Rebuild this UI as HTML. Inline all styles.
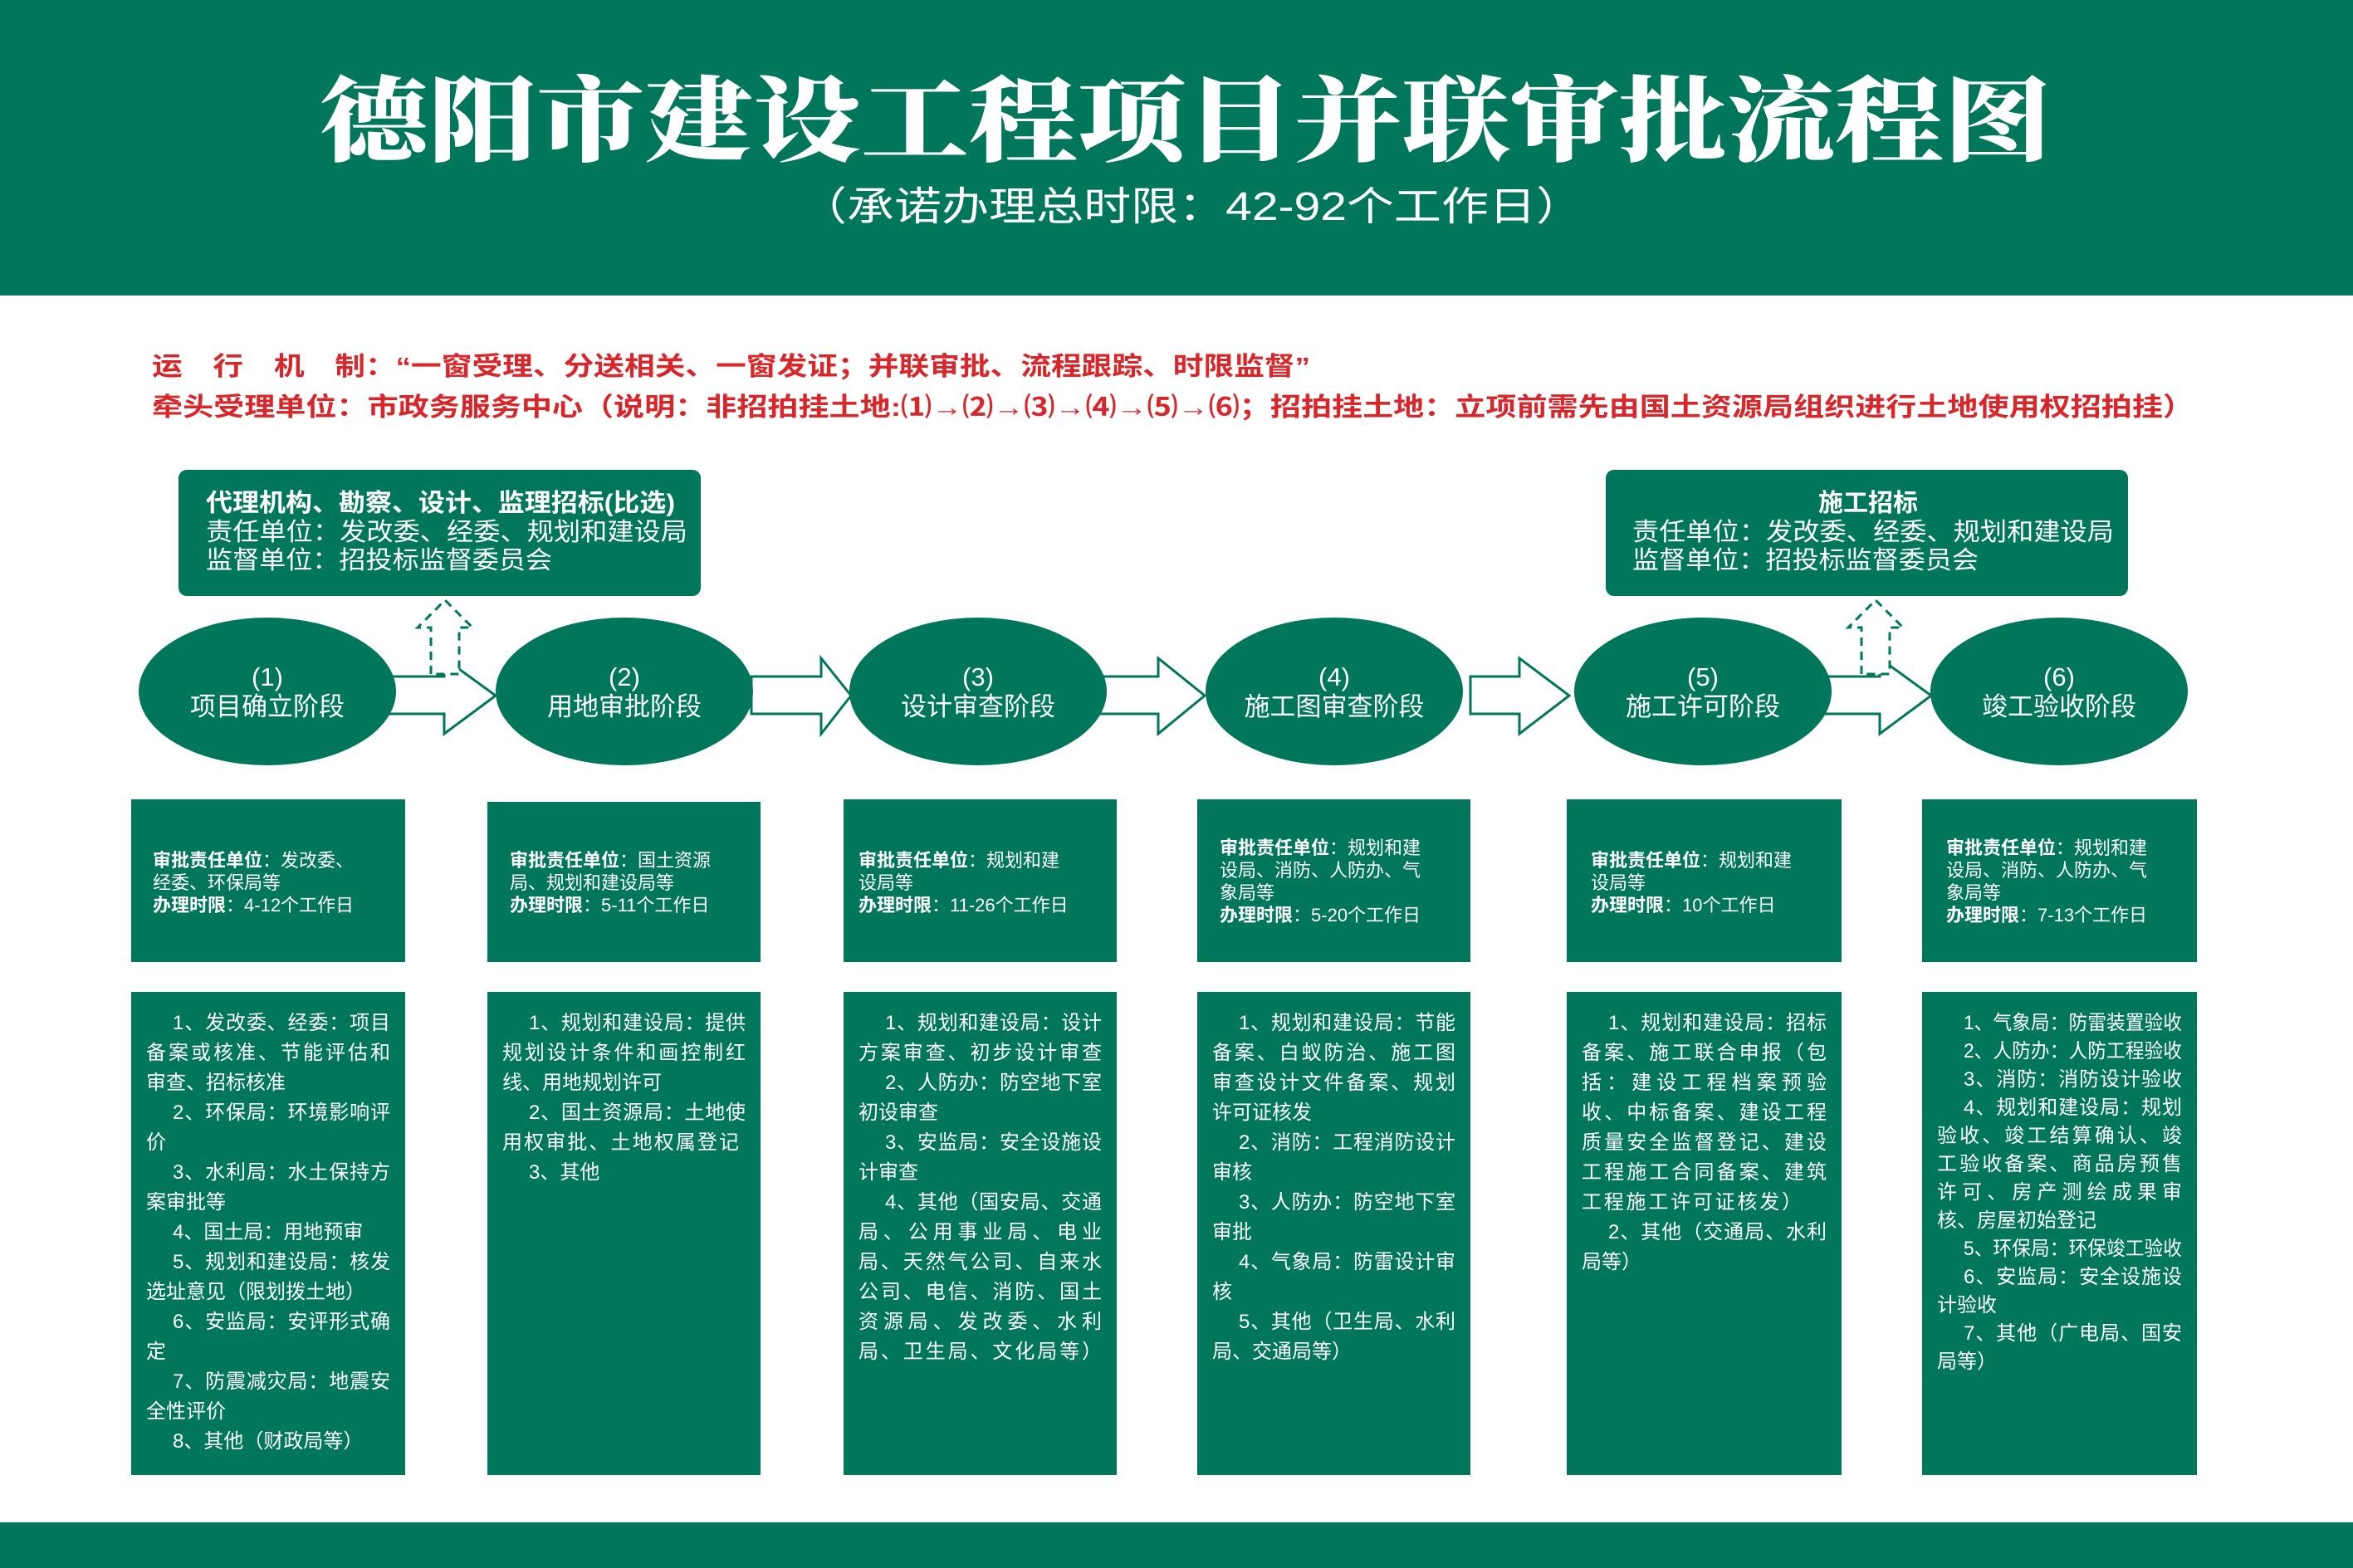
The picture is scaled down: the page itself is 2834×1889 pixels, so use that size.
<!DOCTYPE html>
<html><head><meta charset="utf-8"><style>
html,body{margin:0;padding:0;background:#fff}
svg{display:block}
text{font-family:"Liberation Sans","Noto Sans CJK SC",sans-serif}
.w{fill:#fff}
.r1{font-size:22px;fill:#fff}
.r2{font-size:24px;fill:#fff}
.b{font-weight:bold}
</style></head><body>
<svg width="2834" height="1889" viewBox="0 0 2834 1889" xmlns="http://www.w3.org/2000/svg">
<rect width="2834" height="1889" fill="#fff"/>
<rect x="0" y="0" width="2834" height="356" fill="#00765a"/>
<rect x="0" y="1834" width="2834" height="55" fill="#00765a"/>
<text x="385" y="185" font-size="112" textLength="2086" lengthAdjust="spacingAndGlyphs" style="font-family:'Noto Serif CJK SC',serif;font-weight:900" class="w">德阳市建设工程项目并联审批流程图</text>
<text x="963" y="265" font-size="48" textLength="944" lengthAdjust="spacingAndGlyphs" class="w">（承诺办理总时限：42-92个工作日）</text>

<text x="183" y="452" font-size="31" font-weight="bold" fill="#d7272b" textLength="1395" lengthAdjust="spacingAndGlyphs">运　行　机　制：“一窗受理、分送相关、一窗发证；并联审批、流程跟踪、时限监督”</text>
<text x="183" y="501" font-size="31" font-weight="bold" fill="#d7272b" textLength="2459" lengthAdjust="spacingAndGlyphs">牵头受理单位：市政务服务中心（说明：非招拍挂土地:⑴→⑵→⑶→⑷→⑸→⑹；招拍挂土地：立项前需先由国土资源局组织进行土地使用权招拍挂）</text>

<!-- top boxes -->
<rect x="215" y="566" width="629" height="152" rx="10" fill="#00765a"/>
<text x="248" y="616" font-size="30" font-weight="bold" class="w" textLength="565" lengthAdjust="spacingAndGlyphs">代理机构、勘察、设计、监理招标(比选)</text>
<text x="248" y="651" font-size="30" class="w" textLength="580" lengthAdjust="spacingAndGlyphs">责任单位：发改委、经委、规划和建设局</text>
<text x="248" y="685" font-size="30" class="w" textLength="417" lengthAdjust="spacingAndGlyphs">监督单位：招投标监督委员会</text>
<rect x="1934" y="566" width="629" height="152" rx="10" fill="#00765a"/>
<text x="2250" y="616" font-size="30" font-weight="bold" class="w" text-anchor="middle">施工招标</text>
<text x="1966" y="651" font-size="30" class="w" textLength="580" lengthAdjust="spacingAndGlyphs">责任单位：发改委、经委、规划和建设局</text>
<text x="1966" y="685" font-size="30" class="w" textLength="417" lengthAdjust="spacingAndGlyphs">监督单位：招投标监督委员会</text>

<!-- arrows -->
<g fill="#fff" stroke="#00765a" stroke-width="3">
<polygon points="440,815 535,815 535,793 597,838 535,884 535,860 440,860"/>
<polygon points="905,815 989,815 989,793 1025,838 989,884 989,860 905,860"/>
<polygon points="1300,815 1395,815 1395,793 1451,838 1395,884 1395,860 1300,860"/>
<polygon points="1771,815 1830,815 1830,793 1890,838 1830,884 1830,860 1771,860"/>
<polygon points="2180,815 2264,815 2264,793 2326,838 2264,884 2264,860 2180,860"/>
</g>
<g fill="#fff" stroke="#00765a" stroke-width="3" stroke-dasharray="10,7">
<polygon points="519,812 519,756 503,756 536,723 569,756 553,756 553,812"/>
<polygon points="2242,812 2242,756 2226,756 2259,723 2292,756 2276,756 2276,812"/>
</g>

<!-- ellipses -->
<g fill="#00765a">
<ellipse cx="322" cy="833" rx="155" ry="89"/>
<ellipse cx="752" cy="833" rx="155" ry="89"/>
<ellipse cx="1178" cy="833" rx="155" ry="89"/>
<ellipse cx="1607" cy="833" rx="155" ry="89"/>
<ellipse cx="2051" cy="833" rx="155" ry="89"/>
<ellipse cx="2480" cy="833" rx="155" ry="89"/>
</g>
<g font-size="31" class="w" text-anchor="middle" fill="#fff">
<text x="322" y="826">(1)</text><text x="322" y="862">项目确立阶段</text>
<text x="752" y="826">(2)</text><text x="752" y="862">用地审批阶段</text>
<text x="1178" y="826">(3)</text><text x="1178" y="862">设计审查阶段</text>
<text x="1607" y="826">(4)</text><text x="1607" y="862">施工图审查阶段</text>
<text x="2051" y="826">(5)</text><text x="2051" y="862">施工许可阶段</text>
<text x="2480" y="826">(6)</text><text x="2480" y="862">竣工验收阶段</text>
</g>

<!-- row 1 boxes -->
<g fill="#00765a">
<rect x="158" y="963" width="330" height="196"/>
<rect x="587" y="966" width="329" height="193"/>
<rect x="1016" y="963" width="329" height="196"/>
<rect x="1442" y="963" width="329" height="196"/>
<rect x="1887" y="963" width="331" height="196"/>
<rect x="2315" y="963" width="331" height="196"/>
</g>
<g class="r1">
<text x="184" y="1044"><tspan class="b">审批责任单位</tspan>：发改委、</text>
<text x="184" y="1071">经委、环保局等</text>
<text x="184" y="1098"><tspan class="b">办理时限</tspan>：4-12个工作日</text>

<text x="614" y="1044"><tspan class="b">审批责任单位</tspan>：国土资源</text>
<text x="614" y="1071">局、规划和建设局等</text>
<text x="614" y="1098"><tspan class="b">办理时限</tspan>：5-11个工作日</text>

<text x="1034" y="1044"><tspan class="b">审批责任单位</tspan>：规划和建</text>
<text x="1034" y="1071">设局等</text>
<text x="1034" y="1098"><tspan class="b">办理时限</tspan>：11-26个工作日</text>

<text x="1469" y="1029"><tspan class="b">审批责任单位</tspan>：规划和建</text>
<text x="1469" y="1056">设局、消防、人防办、气</text>
<text x="1469" y="1083">象局等</text>
<text x="1469" y="1110"><tspan class="b">办理时限</tspan>：5-20个工作日</text>

<text x="1916" y="1044"><tspan class="b">审批责任单位</tspan>：规划和建</text>
<text x="1916" y="1071">设局等</text>
<text x="1916" y="1098"><tspan class="b">办理时限</tspan>：10个工作日</text>

<text x="2344" y="1029"><tspan class="b">审批责任单位</tspan>：规划和建</text>
<text x="2344" y="1056">设局、消防、人防办、气</text>
<text x="2344" y="1083">象局等</text>
<text x="2344" y="1110"><tspan class="b">办理时限</tspan>：7-13个工作日</text>
</g>

<!-- row 2 boxes -->
<g fill="#00765a">
<rect x="158" y="1195" width="330" height="582"/>
<rect x="587" y="1195" width="329" height="582"/>
<rect x="1016" y="1195" width="329" height="582"/>
<rect x="1442" y="1195" width="329" height="582"/>
<rect x="1887" y="1195" width="331" height="582"/>
<rect x="2315" y="1195" width="331" height="582"/>
</g>
<g class="r2">
<!-- box1: left 176, right 470 -->
<text x="208" y="1240" textLength="262" lengthAdjust="spacing">1、发改委、经委：项目</text>
<text x="176" y="1276" textLength="294" lengthAdjust="spacing">备案或核准、节能评估和</text>
<text x="176" y="1312">审查、招标核准</text>
<text x="208" y="1348" textLength="262" lengthAdjust="spacing">2、环保局：环境影响评</text>
<text x="176" y="1384">价</text>
<text x="208" y="1420" textLength="262" lengthAdjust="spacing">3、水利局：水土保持方</text>
<text x="176" y="1456">案审批等</text>
<text x="208" y="1492">4、国土局：用地预审</text>
<text x="208" y="1528" textLength="262" lengthAdjust="spacing">5、规划和建设局：核发</text>
<text x="176" y="1564">选址意见（限划拨土地）</text>
<text x="208" y="1600" textLength="262" lengthAdjust="spacing">6、安监局：安评形式确</text>
<text x="176" y="1636">定</text>
<text x="208" y="1672" textLength="262" lengthAdjust="spacing">7、防震减灾局：地震安</text>
<text x="176" y="1708">全性评价</text>
<text x="208" y="1744">8、其他（财政局等）</text>

<!-- box2: 605-898 -->
<text x="637" y="1240" textLength="261" lengthAdjust="spacing">1、规划和建设局：提供</text>
<text x="605" y="1276" textLength="293" lengthAdjust="spacing">规划设计条件和画控制红</text>
<text x="605" y="1312">线、用地规划许可</text>
<text x="637" y="1348" textLength="261" lengthAdjust="spacing">2、国土资源局：土地使</text>
<text x="605" y="1384" textLength="285" lengthAdjust="spacing">用权审批、土地权属登记</text>
<text x="637" y="1420">3、其他</text>

<!-- box3: 1034-1327 -->
<text x="1066" y="1240" textLength="261" lengthAdjust="spacing">1、规划和建设局：设计</text>
<text x="1034" y="1276" textLength="293" lengthAdjust="spacing">方案审查、初步设计审查</text>
<text x="1066" y="1312" textLength="261" lengthAdjust="spacing">2、人防办：防空地下室</text>
<text x="1034" y="1348">初设审查</text>
<text x="1066" y="1384" textLength="261" lengthAdjust="spacing">3、安监局：安全设施设</text>
<text x="1034" y="1420">计审查</text>
<text x="1066" y="1456" textLength="261" lengthAdjust="spacing">4、其他（国安局、交通</text>
<text x="1034" y="1492" textLength="293" lengthAdjust="spacing">局、公用事业局、电业</text>
<text x="1034" y="1528" textLength="293" lengthAdjust="spacing">局、天然气公司、自来水</text>
<text x="1034" y="1564" textLength="293" lengthAdjust="spacing">公司、电信、消防、国土</text>
<text x="1034" y="1600" textLength="293" lengthAdjust="spacing">资源局、发改委、水利</text>
<text x="1034" y="1636" textLength="293" lengthAdjust="spacing">局、卫生局、文化局等）</text>

<!-- box4: 1460-1753 -->
<text x="1492" y="1240" textLength="261" lengthAdjust="spacing">1、规划和建设局：节能</text>
<text x="1460" y="1276" textLength="293" lengthAdjust="spacing">备案、白蚁防治、施工图</text>
<text x="1460" y="1312" textLength="293" lengthAdjust="spacing">审查设计文件备案、规划</text>
<text x="1460" y="1348">许可证核发</text>
<text x="1492" y="1384" textLength="261" lengthAdjust="spacing">2、消防：工程消防设计</text>
<text x="1460" y="1420">审核</text>
<text x="1492" y="1456" textLength="261" lengthAdjust="spacing">3、人防办：防空地下室</text>
<text x="1460" y="1492">审批</text>
<text x="1492" y="1528" textLength="261" lengthAdjust="spacing">4、气象局：防雷设计审</text>
<text x="1460" y="1564">核</text>
<text x="1492" y="1600" textLength="261" lengthAdjust="spacing">5、其他（卫生局、水利</text>
<text x="1460" y="1636">局、交通局等）</text>

<!-- box5: 1905-2200 -->
<text x="1937" y="1240" textLength="263" lengthAdjust="spacing">1、规划和建设局：招标</text>
<text x="1905" y="1276" textLength="295" lengthAdjust="spacing">备案、施工联合申报（包</text>
<text x="1905" y="1312" textLength="295" lengthAdjust="spacing">括：建设工程档案预验</text>
<text x="1905" y="1348" textLength="295" lengthAdjust="spacing">收、中标备案、建设工程</text>
<text x="1905" y="1384" textLength="295" lengthAdjust="spacing">质量安全监督登记、建设</text>
<text x="1905" y="1420" textLength="295" lengthAdjust="spacing">工程施工合同备案、建筑</text>
<text x="1905" y="1456" textLength="265" lengthAdjust="spacing">工程施工许可证核发）</text>
<text x="1937" y="1492" textLength="263" lengthAdjust="spacing">2、其他（交通局、水利</text>
<text x="1905" y="1528">局等）</text>

<!-- box6: 2333-2628 -->
<text x="2365" y="1240" textLength="263" lengthAdjust="spacingAndGlyphs">1、气象局：防雷装置验收</text>
<text x="2365" y="1274" textLength="263" lengthAdjust="spacingAndGlyphs">2、人防办：人防工程验收</text>
<text x="2365" y="1308" textLength="263" lengthAdjust="spacing">3、消防：消防设计验收</text>
<text x="2365" y="1342" textLength="263" lengthAdjust="spacing">4、规划和建设局：规划</text>
<text x="2333" y="1376" textLength="295" lengthAdjust="spacing">验收、竣工结算确认、竣</text>
<text x="2333" y="1410" textLength="295" lengthAdjust="spacing">工验收备案、商品房预售</text>
<text x="2333" y="1444" textLength="295" lengthAdjust="spacing">许可、房产测绘成果审</text>
<text x="2333" y="1478">核、房屋初始登记</text>
<text x="2365" y="1512" textLength="263" lengthAdjust="spacingAndGlyphs">5、环保局：环保竣工验收</text>
<text x="2365" y="1546" textLength="263" lengthAdjust="spacing">6、安监局：安全设施设</text>
<text x="2333" y="1580">计验收</text>
<text x="2365" y="1614" textLength="263" lengthAdjust="spacing">7、其他（广电局、国安</text>
<text x="2333" y="1648">局等）</text>
</g>
</svg>
</body></html>
